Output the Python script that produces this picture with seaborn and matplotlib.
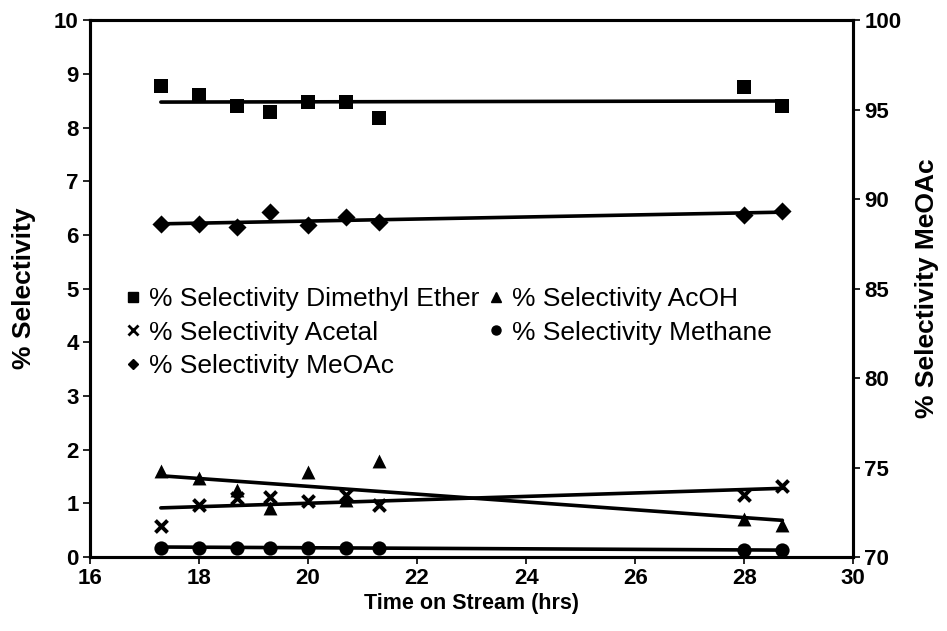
import numpy as np
import matplotlib
matplotlib.use("Agg")
import matplotlib.pyplot as plt
import seaborn as sns
from matplotlib.lines import Line2D

# Selectivity vs. time on stream
time_hrs = [17.3, 18.0, 18.7, 19.3, 20.0, 20.7, 21.3, 28.0, 28.7]
sel_dme = [8.77, 8.60, 8.40, 8.29, 8.48, 8.48, 8.17, 8.75, 8.40]
sel_acoh = [1.60, 1.47, 1.25, 0.92, 1.59, 1.06, 1.79, 0.72, 0.60]
sel_acetal = [0.58, 0.98, 1.10, 1.12, 1.05, 1.15, 0.97, 1.15, 1.32]
sel_methane = [0.18, 0.18, 0.18, 0.18, 0.18, 0.18, 0.18, 0.13, 0.13]
sel_meoac = [88.60, 88.60, 88.45, 89.26, 88.54, 89.02, 88.72, 89.14, 89.35]

labels = ["% Selectivity Dimethyl Ether", "% Selectivity Acetal",
          "% Selectivity MeOAc", "% Selectivity AcOH", "% Selectivity Methane"]

sns.set_theme(style="ticks")
plt.rcParams["font.family"] = ["Liberation Sans", "DejaVu Sans"]
plt.rcParams.update({"text.color": "black", "axes.labelcolor": "black",
                     "xtick.color": "black", "ytick.color": "black"})

fig = plt.figure(figsize=(9.47, 6.31), dpi=100)
ax = fig.add_axes([0.095, 0.117, 0.806, 0.851])
ax2 = ax.twinx()

def series(axis, y, marker, s, lw=0):
    sns.regplot(x=time_hrs, y=y, ax=axis, ci=None, truncate=True, color="black",
                marker=marker,
                scatter_kws=dict(s=s, linewidths=lw, zorder=3, alpha=1),
                line_kws=dict(lw=2.6, color="black", zorder=2))

series(ax, sel_dme, "s", 100)
series(ax, sel_acoh, "^", 100)
series(ax, sel_acetal, "x", 75, lw=2.8)
series(ax, sel_methane, "o", 105)
series(ax2, sel_meoac, "D", 85)

ax.set_xlim(16, 30)
ax.set_ylim(0, 10)
ax2.set_ylim(70, 100)
ax.set_xticks(np.arange(16, 31, 2))
ax.set_yticks(np.arange(0, 11, 1))
ax2.set_yticks(np.arange(70, 101, 5))

ax.set_xlabel("Time on Stream (hrs)", fontsize=15.5, fontweight="bold", labelpad=3)
ax.set_ylabel("% Selectivity", fontsize=19, fontweight="bold", labelpad=13)
ax2.set_ylabel("% Selectivity MeOAc", fontsize=19, fontweight="bold", labelpad=10)

for a in (ax, ax2):
    a.grid(False)
    for sp in a.spines.values():
        sp.set_linewidth(2.2)
        sp.set_color("black")
    a.tick_params(axis="both", direction="out", length=5, width=1.2,
                  labelsize=16, colors="black", pad=3)
for t in ax.get_xticklabels() + ax.get_yticklabels() + ax2.get_yticklabels():
    t.set_fontweight("bold")

handles = [
    Line2D([], [], ls="none", marker="s", color="black", markersize=6.5),
    Line2D([], [], ls="none", marker="x", color="black", markersize=6.5, markeredgewidth=2),
    Line2D([], [], ls="none", marker="D", color="black", markersize=5.5),
    Line2D([], [], ls="none", marker="^", color="black", markersize=7),
    Line2D([], [], ls="none", marker="o", color="black", markersize=6.5),
]
ax2.legend(handles, labels, ncol=2, frameon=False, loc="upper left",
           bbox_to_anchor=(0.025, 0.533), fontsize=19, handlelength=0.6,
           handletextpad=0.3, columnspacing=0.35, labelspacing=0.37,
           borderaxespad=0.2)

fig.savefig("out.png", dpi=100)
